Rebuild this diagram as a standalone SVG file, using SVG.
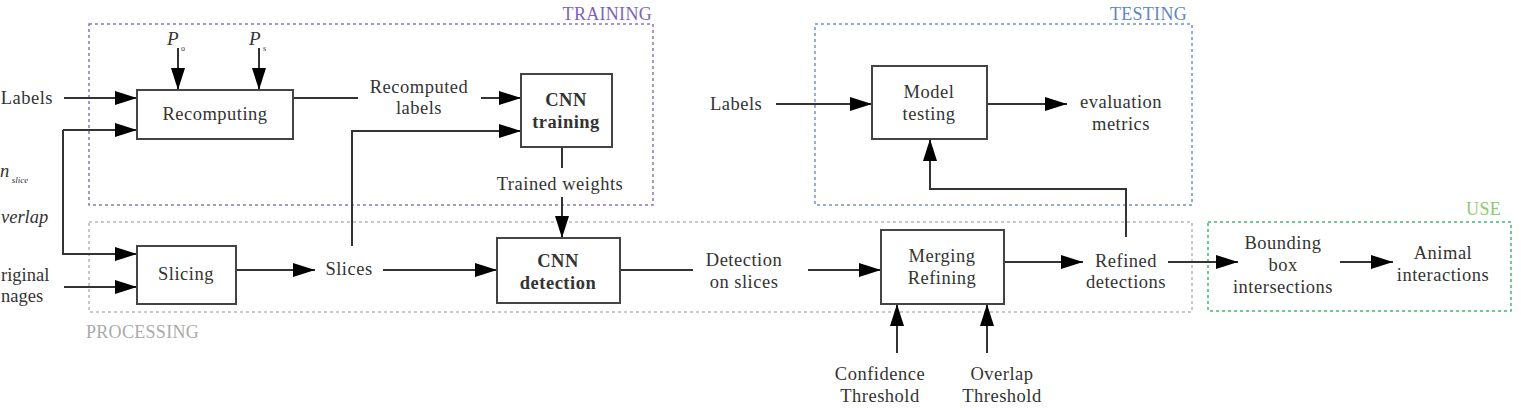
<svg xmlns="http://www.w3.org/2000/svg" width="1521" height="410" viewBox="0 0 1521 410">
<style>
  text { font-family: "Liberation Serif", "DejaVu Serif", serif; font-size: 18.5px; letter-spacing: 0.5px; fill: #333; }
  .c { text-anchor: middle; }
  .b { font-weight: bold; }
  .it { font-style: italic; }
  .edge { letter-spacing: 0; }
  .box { fill: #fff; stroke: #444; stroke-width: 2; }
  .ln { fill: none; stroke: #333; stroke-width: 2; }
  .grp { fill: none; stroke-width: 1.5; stroke-dasharray: 3 3; }
  .glabel { font-size: 18px; letter-spacing: 0.3px; }
</style>
<defs>
  <marker id="ah" markerUnits="userSpaceOnUse" markerWidth="22" markerHeight="16" refX="22" refY="7" orient="auto">
    <path d="M0,0 L22,7 L0,14 z" fill="#000"/>
  </marker>
</defs>

<g id="groups">
  <g id="training-group">
    <rect class="grp" x="89" y="24" width="564" height="181" stroke="#8a74c4"/>
    <text class="glabel" x="652" y="20" text-anchor="end" style="fill:#7d64b8">TRAINING</text>
  </g>
  <g id="testing-group">
    <rect class="grp" x="815" y="24" width="377" height="181" stroke="#6f93c9"/>
    <text class="glabel" x="1187" y="20" text-anchor="end" style="fill:#5f86c4">TESTING</text>
  </g>
  <g id="processing-group">
    <rect class="grp" x="89" y="222" width="1103" height="90" stroke="#b8b8b8"/>
    <text class="glabel" x="86" y="338" style="fill:#aaaaaa">PROCESSING</text>
  </g>
  <g id="use-group">
    <rect class="grp" x="1208" y="222" width="303" height="89" stroke="#3cb878"/>
    <text class="glabel" x="1501" y="215" text-anchor="end" style="fill:#8cc96a">USE</text>
  </g>
</g>

<g id="connectors">
  <path class="ln" d="M64,98 H137" marker-end="url(#ah)"/>
  <path class="ln" d="M63,130 H137" marker-end="url(#ah)"/>
  <path class="ln" d="M63,130 V254 H137" marker-end="url(#ah)"/>
  <path class="ln" d="M64,287 H137" marker-end="url(#ah)"/>
  <path class="ln" d="M178,48 V90" marker-end="url(#ah)"/>
  <path class="ln" d="M259,48 V90" marker-end="url(#ah)"/>
  <path class="ln" d="M293,98 H358"/>
  <path class="ln" d="M481,98 H521" marker-end="url(#ah)"/>
  <path class="ln" d="M352,246 V131 H521" marker-end="url(#ah)"/>
  <path class="ln" d="M236,270 H315" marker-end="url(#ah)"/>
  <path class="ln" d="M383,270 H497" marker-end="url(#ah)"/>
  <path class="ln" d="M562,147 V168"/>
  <path class="ln" d="M562,197 V238" marker-end="url(#ah)"/>
  <path class="ln" d="M620,270 H693"/>
  <path class="ln" d="M808,270 H881" marker-end="url(#ah)"/>
  <path class="ln" d="M1004,262 H1083" marker-end="url(#ah)"/>
  <path class="ln" d="M1126,237 V189 H930 V139" marker-end="url(#ah)"/>
  <path class="ln" d="M776,104 H872" marker-end="url(#ah)"/>
  <path class="ln" d="M987,104 H1067" marker-end="url(#ah)"/>
  <path class="ln" d="M897,353 V304" marker-end="url(#ah)"/>
  <path class="ln" d="M987,353 V304" marker-end="url(#ah)"/>
  <path class="ln" d="M1168,262 H1238" marker-end="url(#ah)"/>
  <path class="ln" d="M1340,262 H1393" marker-end="url(#ah)"/>
</g>

<g id="inputs">
  <text x="53" y="104" text-anchor="end">Labels</text>
  <text x="0" y="177" class="it">n<tspan dx="2" dy="6" style="font-size:9px;letter-spacing:0;fill:#333">slice</tspan></text>
  <text x="1" y="223" class="it edge">verlap</text>
  <text x="1" y="281" class="edge">riginal</text>
  <text x="1" y="302" class="edge">nages</text>
  <text x="167" y="45" class="it" style="font-size:19px">P</text>
  <text x="181" y="51" style="font-size:8px;letter-spacing:0">o</text>
  <text x="249" y="45" class="it" style="font-size:19px">P</text>
  <text x="263" y="51" style="font-size:8px;letter-spacing:0">s</text>
</g>

<g id="recomputing">
  <rect class="box" x="137" y="90" width="156" height="49"/>
  <text class="c" x="215" y="120">Recomputing</text>
</g>
<g id="recomputed-labels">
  <text class="c" x="419" y="93">Recomputed</text>
  <text class="c" x="419" y="114">labels</text>
</g>
<g id="cnn-training">
  <rect class="box" x="521" y="74" width="91" height="73"/>
  <text class="c b" x="566" y="106">CNN</text>
  <text class="c b" x="566" y="128">training</text>
</g>
<g id="trained-weights">
  <text class="c" x="560" y="190">Trained weights</text>
</g>
<g id="slicing">
  <rect class="box" x="137" y="246" width="99" height="58"/>
  <text class="c" x="186" y="280">Slicing</text>
</g>
<g id="slices">
  <text class="c" x="349" y="275">Slices</text>
</g>
<g id="cnn-detection">
  <rect class="box" x="497" y="238" width="123" height="65"/>
  <text class="c b" x="558" y="267">CNN</text>
  <text class="c b" x="558" y="289">detection</text>
</g>
<g id="detection-on-slices">
  <text class="c" x="744" y="266">Detection</text>
  <text class="c" x="744" y="288">on slices</text>
</g>
<g id="merging-refining">
  <rect class="box" x="881" y="230" width="123" height="74"/>
  <text class="c" x="942" y="262">Merging</text>
  <text class="c" x="942" y="284">Refining</text>
</g>
<g id="confidence-threshold">
  <text class="c" x="880" y="380">Confidence</text>
  <text class="c" x="880" y="402">Threshold</text>
</g>
<g id="overlap-threshold">
  <text class="c" x="1002" y="380">Overlap</text>
  <text class="c" x="1002" y="402">Threshold</text>
</g>
<g id="refined-detections">
  <text class="c" x="1126" y="267">Refined</text>
  <text class="c" x="1126" y="288">detections</text>
</g>
<g id="labels-testing">
  <text x="710" y="110">Labels</text>
</g>
<g id="model-testing">
  <rect class="box" x="872" y="66" width="115" height="73"/>
  <text class="c" x="929" y="98">Model</text>
  <text class="c" x="929" y="120">testing</text>
</g>
<g id="evaluation-metrics">
  <text class="c" x="1121" y="108">evaluation</text>
  <text class="c" x="1121" y="130">metrics</text>
</g>
<g id="bounding-box">
  <text class="c" x="1283" y="249">Bounding</text>
  <text class="c" x="1283" y="271">box</text>
  <text class="c" x="1283" y="293">intersections</text>
</g>
<g id="animal-interactions">
  <text class="c" x="1443" y="259">Animal</text>
  <text class="c" x="1443" y="281">interactions</text>
</g>
</svg>
